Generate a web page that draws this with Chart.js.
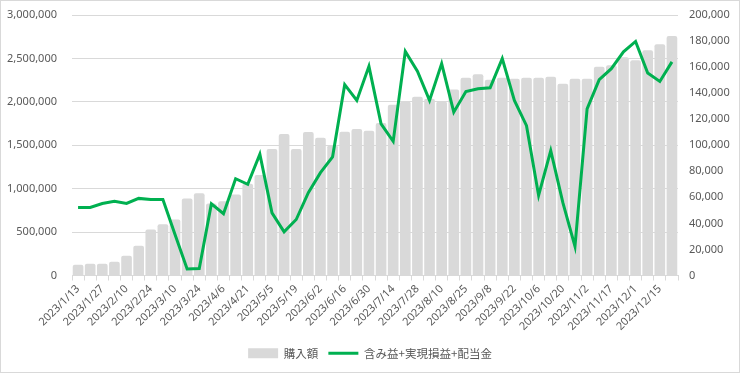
<!DOCTYPE html>
<html>
<head>
<meta charset="utf-8">
<script src="https://cdn.jsdelivr.net/npm/chart.js@4.4.1/dist/chart.umd.min.js"></script>
<style>
    body { margin: 0; background: #fff; }
    #wrap { width: 740px; height: 373px; border: 1px solid #d9d9d9; box-sizing: border-box; position: relative; }
</style>
</head>
<body>
<div id="wrap"><canvas id="chart"></canvas></div>
<script>
// 週ごとの日付
const dates = [
    '2023/1/13', '2023/1/20', '2023/1/27', '2023/2/3', '2023/2/10', '2023/2/17', '2023/2/24', '2023/3/3',
    '2023/3/10', '2023/3/17', '2023/3/24', '2023/3/31', '2023/4/6', '2023/4/14', '2023/4/21', '2023/4/28',
    '2023/5/5', '2023/5/12', '2023/5/19', '2023/5/26', '2023/6/2', '2023/6/9', '2023/6/16', '2023/6/23',
    '2023/6/30', '2023/7/7', '2023/7/14', '2023/7/21', '2023/7/28', '2023/8/4', '2023/8/10', '2023/8/18',
    '2023/8/25', '2023/9/1', '2023/9/8', '2023/9/15', '2023/9/22', '2023/9/29', '2023/10/6', '2023/10/13',
    '2023/10/20', '2023/10/27', '2023/11/2', '2023/11/10', '2023/11/17', '2023/11/24', '2023/12/1', '2023/12/8',
    '2023/12/15', '2023/12/22'
];

// 購入額 (左軸)
const purchase = [
    124000, 135000, 135000, 158000, 228000, 344000, 529000, 590000, 645000, 888000,
    946000, 830000, 855000, 934000, 1058000, 1158000, 1456000, 1629000, 1456000, 1653000,
    1587000, 1500000, 1655000, 1688000, 1666000, 1757000, 1965000, 2004000, 2058000, 2035000,
    2004000, 2143000, 2278000, 2317000, 2255000, 2278000, 2266000, 2278000, 2278000, 2290000,
    2208000, 2266000, 2266000, 2405000, 2421000, 2514000, 2479000, 2595000, 2664000, 2757000
];

// 含み益+実現損益+配当金 (右軸)
const profit = [
    52300, 52300, 55300, 56900, 55300, 59200, 58400, 58400, 31500, 5000,
    5300, 55000, 47500, 74300, 70000, 93200, 48100, 33500, 43000, 63600,
    79000, 91100, 146500, 134400, 160600, 116400, 103000, 172000, 156800, 134400,
    162700, 125400, 141300, 143400, 144100, 166500, 134400, 115000, 61500, 95800,
    55900, 22400, 127900, 150300, 158800, 171700, 179700, 155500, 149000, 164000
];

const leftTicks = { min: 0, max: 3000000, step: 500000 };
const rightTicks = { min: 0, max: 200000, step: 20000 };

const textColor = '#595959';
const gridColor = '#d9d9d9';
const fontFamily = '"Noto Sans", "Noto Sans CJK JP", sans-serif';

Chart.defaults.font.family = fontFamily;
Chart.defaults.font.size = 11;
Chart.defaults.color = textColor;

const ctx = document.getElementById('chart').getContext('2d');
new Chart(ctx, {
    type: 'bar',
    data: {
        labels: dates,
        datasets: [{
            type: 'bar',
            label: '購入額',
            data: purchase,
            backgroundColor: '#d9d9d9',
            borderWidth: 0,
            borderRadius: { topLeft: 2, topRight: 2 },
            borderSkipped: 'bottom',
            barPercentage: 0.88,
            categoryPercentage: 1,
            pointStyle: 'rect',
            yAxisID: 'y',
            order: 1
        }, {
            type: 'line',
            label: '含み益+実現損益+配当金',
            data: profit,
            borderColor: '#00b050',
            backgroundColor: '#00b050',
            borderWidth: 3,
            pointRadius: 0,
            pointStyle: 'line',
            tension: 0,
            yAxisID: 'y1',
            order: 0
        }]
    },
    options: {
        responsive: true,
        maintainAspectRatio: false,
        animation: false,
        layout: { padding: { top: 14, bottom: 3, left: 0, right: 0 } },
        plugins: {
            tooltip: { enabled: false },
            legend: {
                position: 'bottom',
                labels: {
                    usePointStyle: true,
                    pointStyleWidth: 30,
                    boxHeight: 10,
                    padding: 10,
                    color: textColor,
                    font: { size: 11.5, family: '"Noto Sans CJK JP", sans-serif' },
                    sort: (a, b) => a.datasetIndex - b.datasetIndex
                }
            }
        },
        scales: {
            x: {
                offset: true,
                grid: { display: true, drawOnChartArea: false, drawTicks: true, tickLength: 5, color: gridColor, offset: true },
                border: { display: true, color: gridColor },
                ticks: {
                    autoSkip: false,
                    minRotation: 45,
                    maxRotation: 45,
                    padding: 2,
                    color: textColor,
                    callback: function(value, index) {
                        return index % 2 === 0 ? dates[index] : '';
                    }
                },
                afterFit: function(scale) { scale.height = 62; }
            },
            y: {
                position: 'left',
                min: leftTicks.min,
                max: leftTicks.max,
                // 目盛り線は透明にしてラベルとの間隔だけ確保する
                grid: { color: gridColor, drawTicks: true, tickLength: 15, tickColor: 'transparent' },
                border: { display: false },
                ticks: {
                    stepSize: leftTicks.step,
                    padding: 0,
                    callback: v => v.toLocaleString('en-US')
                },
                afterFit: function(scale) { scale.width = 71; }
            },
            y1: {
                position: 'right',
                min: rightTicks.min,
                max: rightTicks.max,
                grid: { drawOnChartArea: false, drawTicks: true, tickLength: 11, tickColor: 'transparent' },
                border: { display: false },
                ticks: {
                    stepSize: rightTicks.step,
                    padding: 0,
                    callback: v => v.toLocaleString('en-US')
                },
                afterFit: function(scale) { scale.width = 61; }
            }
        }
    }
});
</script>
</body>
</html>
